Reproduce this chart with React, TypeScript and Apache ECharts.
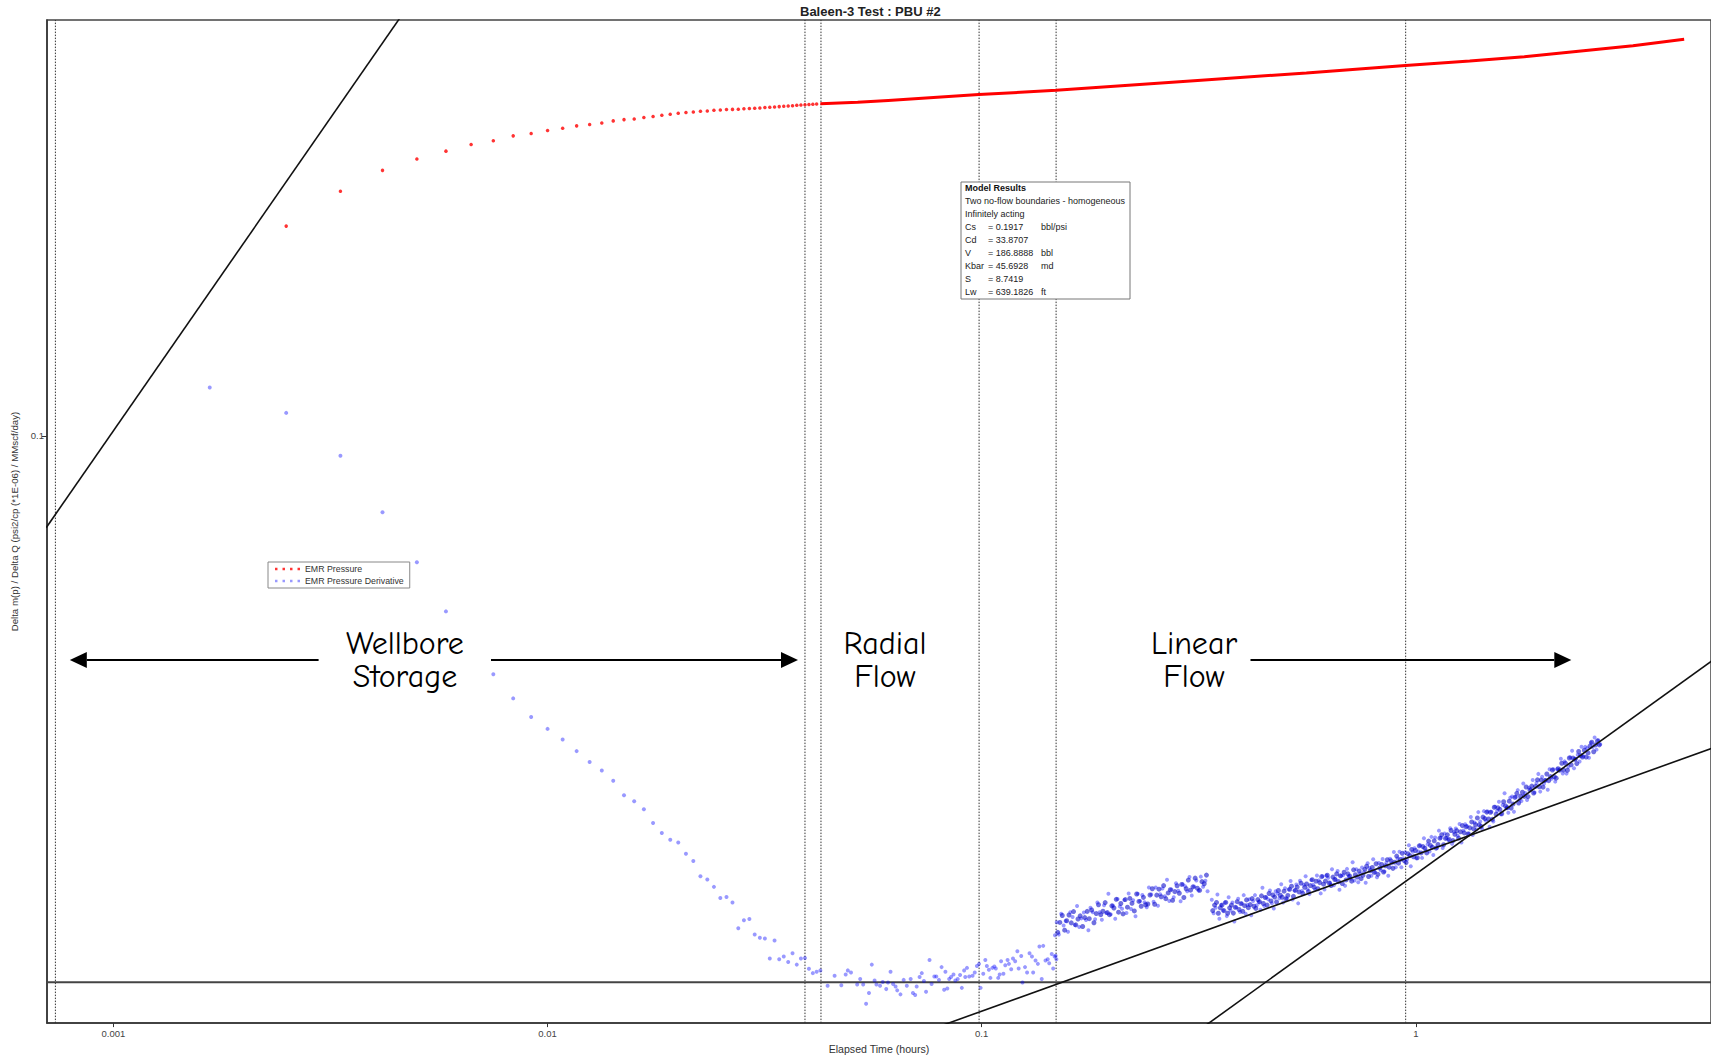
import React, { useEffect, useRef } from 'react';
import * as echarts from 'echarts';

// ---- Data -------------------------------------------------------------
// Scatter data: [elapsed time (s), value in psi2/cp (*1E-06) / MMscf/day]

const pressureEarly: [number, number][] = [
  [9, 0.2164], [12, 0.246], [15, 0.2657], [18, 0.277], [21, 0.2852], [24, 0.2923],
  [27, 0.2963], [30, 0.3017], [33, 0.3043], [36, 0.3076], [39, 0.3103], [42, 0.313],
  [45, 0.3145], [48, 0.3164], [51, 0.3188], [54, 0.3203], [57, 0.3211], [60, 0.3227],
  [63, 0.3239], [66, 0.3255], [69, 0.3266], [72, 0.3279], [75, 0.3287], [78, 0.3295],
  [81, 0.3303], [84, 0.3307], [87, 0.3315], [90, 0.3319], [93, 0.3324], [96, 0.3326],
  [99, 0.3327], [102, 0.3333], [105, 0.3336], [108, 0.334], [111, 0.3344], [114, 0.3348],
  [117, 0.3352], [120, 0.3356], [123, 0.336], [126, 0.3364], [129, 0.3368], [132, 0.3372],
  [135, 0.3376], [138, 0.338], [141, 0.3384], [144, 0.3387], [147, 0.339], [150, 0.3393],
];

// Dense pressure record, [hours, value]
const pressureLate: [number, number][] = [
  [0.0425, 0.3396], [0.0518, 0.3413], [0.0609, 0.3438], [0.0985, 0.3512], [0.1484, 0.3568],
  [0.3143, 0.3699], [0.5597, 0.3803], [0.9465, 0.391], [1.331, 0.3975], [1.777, 0.4038],
  [2.37, 0.412], [3.164, 0.4203], [4.151, 0.4305],
];

const derivStorage: [number, number][] = [
  [6, 0.1195], [9, 0.1088], [12, 0.0929], [15, 0.07548], [18, 0.06277], [21, 0.05239],
  [27, 0.04157], [30, 0.03803], [33, 0.03552], [36, 0.03399], [39, 0.03269], [42, 0.03132],
  [45, 0.03008], [48, 0.02917], [51, 0.02809], [54, 0.02662], [57, 0.02604], [60, 0.02529],
  [63, 0.02403], [66, 0.02316], [69, 0.0226], [72, 0.02238], [75, 0.02147], [78, 0.0209],
  [81, 0.01976], [84, 0.01952], [87, 0.019], [90, 0.01823], [93, 0.0183], [96, 0.01794],
  [99, 0.01631], [102, 0.0168], [105, 0.01688], [108, 0.01594], [111, 0.01575], [114, 0.01571],
  [117, 0.01459], [120, 0.01559], [123, 0.01455], [126, 0.0147], [129, 0.01441], [132, 0.01488],
  [135, 0.01427], [138, 0.01459],
];

const derivRadial: [number, number][] = [
  [141, 0.01462], [144, 0.01406], [147, 0.01383], [150, 0.0139], [153, 0.01397], [159, 0.0132],
  [165, 0.0137], [171, 0.01323], [175, 0.01376], [177, 0.01397], [180, 0.01386], [186, 0.01326],
  [189, 0.01353], [192, 0.01326], [195, 0.01236], [198, 0.01285], [201, 0.01427], [204, 0.01346],
  [206, 0.01326], [210, 0.0132], [213, 0.01339], [217, 0.01304], [219, 0.01336], [222, 0.0139],
  [225, 0.01329], [228, 0.01317], [230, 0.01298], [234, 0.01279], [238, 0.01349], [242, 0.0132],
  [247, 0.01353], [250, 0.01285], [253, 0.01276], [255, 0.01317], [259, 0.01363], [262, 0.01383],
  [265, 0.01343], [268, 0.01291], [273, 0.01452], [276, 0.01329], [280, 0.01366], [283, 0.01366],
  [287, 0.01349], [291, 0.01414], [295, 0.01301], [297, 0.0139], [300, 0.01307], [303, 0.01353],
  [306, 0.01363], [310, 0.01376], [313, 0.01346], [317, 0.01353], [321, 0.01373], [324, 0.0131],
  [328, 0.01397], [330, 0.01363], [333, 0.0141], [337, 0.01366], [343, 0.0137], [347, 0.01386],
  [351, 0.0142], [355, 0.01431], [358, 0.0131], [363, 0.0138], [367, 0.01452], [370, 0.0142],
  [374, 0.014], [377, 0.01359], [381, 0.0141], [385, 0.01417], [388, 0.01407], [393, 0.01359],
  [396, 0.01376], [399, 0.01445], [404, 0.0138], [408, 0.01424], [413, 0.01452], [416, 0.01431],
  [421, 0.01403], [425, 0.01459], [430, 0.01445], [435, 0.01499], [438, 0.01407], [444, 0.01473],
  [447, 0.01336], [453, 0.01414], [458, 0.01386], [464, 0.01488], [470, 0.0147], [473, 0.01386],
  [479, 0.01449], [485, 0.01431], [489, 0.01525], [495, 0.01353], [499, 0.01529], [505, 0.01449],
  [511, 0.01455], [515, 0.01434], [522, 0.01484], [526, 0.01407], [530, 0.0147], [535, 0.01455],
];

const derivStep: [number, number][] = [
  [531, 0.0159], [533, 0.01474], [536, 0.01668], [542, 0.01595], [549, 0.01721], [556, 0.01648],
  [562, 0.01676], [569, 0.01611], [576, 0.0173], [583, 0.017], [590, 0.01651], [597, 0.01771],
  [604, 0.01639], [611, 0.01692], [619, 0.01729], [626, 0.01682], [634, 0.0162], [641, 0.0176],
  [649, 0.01731], [657, 0.01686], [665, 0.01794], [673, 0.0173], [681, 0.01683], [689, 0.01775],
  [697, 0.01726], [705, 0.01852], [714, 0.01717], [722, 0.01774], [731, 0.0169], [740, 0.01817],
  [749, 0.01768], [758, 0.01753], [767, 0.01811], [776, 0.01726], [785, 0.01854], [795, 0.01751],
  [804, 0.01809], [814, 0.01705], [824, 0.01853], [834, 0.01803], [844, 0.01844], [854, 0.01795],
  [864, 0.01763], [874, 0.01896], [885, 0.01847], [896, 0.01798], [906, 0.01895], [917, 0.01772],
  [928, 0.01849], [939, 0.01889], [951, 0.01836], [962, 0.0195], [974, 0.01804], [985, 0.01882],
  [997, 0.01829], [1009, 0.01925], [1021, 0.01873], [1034, 0.01802], [1046, 0.01919], [1059, 0.01904],
  [1071, 0.0187], [1084, 0.0197], [1097, 0.01841], [1111, 0.01903], [1124, 0.01945], [1137, 0.01874],
  [1151, 0.01973], [1165, 0.01901], [1179, 0.01943], [1193, 0.0187],
];

const derivStepFill: [number, number][] = [
  [539, 0.01607], [545, 0.01667], [552, 0.0171], [559, 0.0162], [565, 0.01677], [572, 0.01713],
  [579, 0.01664], [586, 0.01735], [593, 0.01652], [600, 0.01688], [607, 0.01708], [615, 0.01642],
  [622, 0.01697], [630, 0.01736], [637, 0.0169], [645, 0.01745], [653, 0.01665], [661, 0.01722],
  [669, 0.01779], [677, 0.01715], [685, 0.01737], [693, 0.01793], [701, 0.01728], [709, 0.01715],
  [718, 0.01772], [726, 0.01758], [735, 0.01815], [744, 0.01731], [753, 0.01787], [762, 0.0172],
  [771, 0.01813], [780, 0.01763], [790, 0.01821], [799, 0.01789], [809, 0.01739], [819, 0.01851],
  [829, 0.01801], [839, 0.01769], [849, 0.01828], [859, 0.01779], [869, 0.01784], [879, 0.01844],
  [890, 0.01887], [901, 0.01782], [911, 0.01843], [922, 0.01884], [933, 0.01832], [945, 0.01909],
  [956, 0.01819], [968, 0.01858], [979, 0.0188], [991, 0.01808], [1003, 0.01867], [1015, 0.01908],
  [1027, 0.01856], [1040, 0.01917], [1052, 0.01827], [1065, 0.01887], [1077, 0.01948], [1090, 0.01877],
  [1104, 0.019], [1117, 0.01962], [1130, 0.01891], [1144, 0.01876], [1158, 0.01937], [1172, 0.01922],
  [1186, 0.01984],
];

const derivLinearA: [number, number][] = [
  [1220, 0.01812], [1232, 0.01724], [1245, 0.01759], [1257, 0.01847], [1270, 0.01689], [1282, 0.01777],
  [1295, 0.01741], [1308, 0.01794], [1321, 0.01706], [1334, 0.01829], [1348, 0.01741], [1361, 0.01794],
  [1375, 0.01673], [1389, 0.01763], [1403, 0.01818], [1417, 0.01732], [1431, 0.01788], [1445, 0.01843],
  [1460, 0.01721], [1474, 0.01777], [1489, 0.01815], [1504, 0.01711], [1519, 0.01804], [1534, 0.01843],
  [1549, 0.01775], [1565, 0.01797], [1580, 0.01746], [1596, 0.01894], [1612, 0.01771], [1628, 0.01829],
  [1645, 0.01816], [1661, 0.01875], [1678, 0.01788], [1695, 0.01755], [1712, 0.01869], [1729, 0.01854],
  [1746, 0.01822], [1763, 0.01918], [1781, 0.01794], [1799, 0.0189], [1817, 0.01821], [1835, 0.01881],
  [1853, 0.01941], [1872, 0.01814], [1891, 0.01874], [1910, 0.01916], [1929, 0.01788], [1948, 0.01943],
  [1968, 0.01872], [1987, 0.01914], [2007, 0.01975], [2027, 0.01884], [2048, 0.0185], [2068, 0.01949],
  [2089, 0.01915], [2110, 0.01881], [2131, 0.01981], [2152, 0.01946], [2174, 0.01855], [2196, 0.01975],
];

const derivLinearB: [number, number][] = [
  [2218, 0.01882], [2240, 0.01981], [2262, 0.01964], [2285, 0.01928], [2308, 0.02027], [2331, 0.01912],
  [2354, 0.01953], [2378, 0.02014], [2401, 0.0188], [2425, 0.0198], [2450, 0.01984], [2474, 0.01908],
  [2499, 0.0203], [2524, 0.01974], [2549, 0.01958], [2575, 0.0208], [2600, 0.01945], [2626, 0.02028],
  [2653, 0.01932], [2679, 0.01996], [2706, 0.02041], [2733, 0.02005], [2760, 0.01929], [2788, 0.02072],
  [2816, 0.02036], [2844, 0.01979], [2872, 0.02104], [2901, 0.02006], [2930, 0.01969], [2959, 0.02074],
  [2989, 0.0202], [3019, 0.02106], [3049, 0.0201], [3080, 0.02077], [3110, 0.0198], [3141, 0.02108],
  [3173, 0.02073], [3205, 0.02161], [3237, 0.02042], [3269, 0.0211], [3302, 0.02162], [3335, 0.02042],
  [3368, 0.02111], [3402, 0.02159], [3436, 0.02102], [3470, 0.02214], [3505, 0.0205], [3540, 0.02162],
  [3576, 0.0219], [3611, 0.0211], [3648, 0.02164], [3684, 0.02214], [3721, 0.02114], [3758, 0.02273],
  [3796, 0.02172], [3834, 0.02223], [3872, 0.02165], [3911, 0.02284], [3950, 0.02136], [3989, 0.02278],
  [4029, 0.02195], [4070, 0.02337], [4110, 0.02277], [4151, 0.02193], [4193, 0.02313], [4235, 0.02275],
  [4277, 0.02259], [4320, 0.02358], [4363, 0.02227], [4407, 0.02326],
];

const derivLinearC: [number, number][] = [
  [4451, 0.02356], [4495, 0.02294], [4540, 0.02394], [4586, 0.02238], [4631, 0.02338], [4678, 0.02392],
  [4725, 0.02376], [4772, 0.02312], [4819, 0.02458], [4868, 0.02299], [4916, 0.02409], [4966, 0.02348],
  [5015, 0.02502], [5065, 0.02417], [5116, 0.02354], [5167, 0.02511], [5219, 0.02424], [5271, 0.02508],
  [5324, 0.02371], [5377, 0.02506], [5431, 0.02417], [5485, 0.02552], [5540, 0.02512], [5595, 0.02599],
  [5651, 0.02482], [5708, 0.02568], [5765, 0.02682], [5823, 0.02538], [5881, 0.02497], [5940, 0.02637],
  [5999, 0.02649], [6059, 0.02505], [6120, 0.02648], [6181, 0.02713], [6243, 0.02621], [6305, 0.02606],
  [6368, 0.02779], [6432, 0.02684], [6496, 0.02616], [6561, 0.02736], [6627, 0.02721], [6693, 0.02815],
  [6760, 0.0269], [6828, 0.02785], [6896, 0.0288], [6965, 0.02698], [7034, 0.02849], [7105, 0.02777],
  [7176, 0.02817], [7248, 0.02717], [7320, 0.02929], [7393, 0.02829], [7467, 0.02929], [7542, 0.02799],
  [7617, 0.02929], [7693, 0.02915], [7770, 0.03046], [7848, 0.02884], [7926, 0.03016], [8006, 0.02883],
  [8086, 0.02957], [8166, 0.03061], [8248, 0.03137], [8331, 0.0294], [8414, 0.03045], [8498, 0.03091],
  [8583, 0.03014], [8669, 0.03182], [8756, 0.03073], [8843, 0.03181], [8932, 0.03166], [9021, 0.03056],
  [9111, 0.03229], [9202, 0.03181], [9294, 0.03293], [9387, 0.03149], [9481, 0.03261], [9576, 0.03213],
];

const derivLinearFillA: [number, number][] = [
  [1226, 0.01741], [1238, 0.01777], [1251, 0.01794], [1263, 0.01724], [1276, 0.01759], [1288, 0.01777],
  [1301, 0.01741], [1314, 0.01794], [1327, 0.01724], [1341, 0.01759], [1354, 0.01777], [1368, 0.01725],
  [1382, 0.01762], [1396, 0.01799], [1410, 0.01748], [1424, 0.01786], [1438, 0.01736], [1452, 0.01773],
  [1467, 0.01811], [1481, 0.0176], [1496, 0.0178], [1511, 0.0182], [1526, 0.01769], [1541, 0.01755],
  [1557, 0.01813], [1572, 0.01798], [1588, 0.01838], [1604, 0.01787], [1620, 0.01827], [1636, 0.01777],
  [1653, 0.01854], [1670, 0.01804], [1687, 0.01844], [1703, 0.0183], [1720, 0.01797], [1737, 0.01875],
  [1755, 0.01842], [1772, 0.01829], [1790, 0.0187], [1808, 0.01818], [1826, 0.01841], [1844, 0.01883],
  [1862, 0.01905], [1881, 0.01835], [1900, 0.01876], [1919, 0.01899], [1938, 0.01865], [1958, 0.01926],
  [1977, 0.01855], [1997, 0.01897], [2017, 0.0192], [2037, 0.01867], [2058, 0.01909], [2078, 0.01951],
  [2099, 0.01898], [2120, 0.0194], [2141, 0.01887], [2163, 0.0193], [2185, 0.01973], [2207, 0.01919],
  [2229, 0.01941], [2251, 0.01983], [2274, 0.01927], [2297, 0.01909], [2320, 0.0197], [2343, 0.01952],
  [2366, 0.01993], [2390, 0.01937], [2413, 0.01979], [2438, 0.01923], [2462, 0.02005], [2487, 0.01949],
  [2512, 0.01993], [2537, 0.01976], [2562, 0.0194], [2588, 0.02023], [2613, 0.01987], [2640, 0.0197],
  [2666, 0.02014], [2693, 0.01958], [2720, 0.01983], [2747, 0.02027], [2774, 0.0205], [2802, 0.01974],
  [2830, 0.02017], [2858, 0.02041], [2887, 0.02004], [2916, 0.02069], [2945, 0.0199], [2974, 0.02037],
  [3004, 0.02063], [3034, 0.02007], [3064, 0.02053], [3095, 0.021], [3125, 0.02043], [3157, 0.02091],
  [3189, 0.02034], [3221, 0.02081], [3253, 0.02128], [3285, 0.02073],
];

const derivLinearFillB: [number, number][] = [
  [3318, 0.02102], [3351, 0.0215], [3385, 0.02093], [3419, 0.02078], [3453, 0.02147], [3487, 0.02132],
  [3522, 0.02181], [3558, 0.02123], [3593, 0.02172], [3629, 0.02115], [3666, 0.0221], [3702, 0.02153],
  [3739, 0.02204], [3777, 0.0219], [3815, 0.02153], [3853, 0.02249], [3891, 0.02213], [3930, 0.02199],
  [3969, 0.02251], [4009, 0.02191], [4049, 0.02221], [4090, 0.02273], [4130, 0.02302], [4172, 0.02219],
  [4214, 0.02271], [4256, 0.02301], [4298, 0.02262], [4341, 0.02338], [4385, 0.02253], [4429, 0.02306],
  [4473, 0.02336], [4517, 0.02274], [4563, 0.02327], [4608, 0.02381], [4654, 0.02318], [4701, 0.02371],
  [4748, 0.02308], [4795, 0.02361], [4843, 0.02413], [4892, 0.02353], [4941, 0.0239], [4990, 0.02449],
  [5040, 0.02387], [5090, 0.02374], [5141, 0.02456], [5193, 0.02443], [5245, 0.02502], [5297, 0.02439],
  [5350, 0.025], [5404, 0.02436], [5458, 0.02547], [5512, 0.02482], [5567, 0.02542], [5623, 0.02528],
  [5679, 0.02487], [5736, 0.02599], [5794, 0.02559], [5852, 0.02543], [5910, 0.02605], [5970, 0.02539],
  [6029, 0.02577], [6090, 0.02641], [6151, 0.02681], [6212, 0.02587], [6274, 0.02653], [6337, 0.02692],
  [6400, 0.02651], [6464, 0.02744], [6529, 0.02649], [6594, 0.02715], [6660, 0.02754], [6726, 0.02684],
  [6794, 0.02751], [6862, 0.02818], [6930, 0.02747], [6999, 0.02815], [7069, 0.02743], [7140, 0.02811],
  [7212, 0.02879], [7284, 0.02809], [7356, 0.02851], [7430, 0.02922], [7504, 0.0285], [7579, 0.02835],
  [7655, 0.02936], [7731, 0.02922], [7809, 0.02995], [7887, 0.02921], [7966, 0.02994], [8046, 0.02919],
  [8126, 0.03054], [8207, 0.02978], [8289, 0.03053], [8372, 0.03038], [8456, 0.02991], [8540, 0.03128],
  [8626, 0.03082], [8712, 0.03065], [8799, 0.03142], [8887, 0.03064], [8976, 0.03111], [9066, 0.0319],
  [9156, 0.03236], [9248, 0.03125], [9340, 0.03205], [9434, 0.03253], [9528, 0.03205],
];

// Diagnostic straight lines, [hours, value] end points
const unitSlopeLine: [number, number][] = [[0.0007, 0.0713], [0.0047, 0.479]];
const quarterSlopeLine: [number, number][] = [[0.08, 0.01137], [5, 0.03196]];
const halfSlopeLine: [number, number][] = [[0.3, 0.01091], [5, 0.04454]];

// Flow-regime boundaries (hours) and radial-flow stabilisation level
const regimeBoundaries = [0.000735, 0.03917, 0.04264, 0.09863, 0.1484, 0.9476];
const radialLevel = 0.01337;

const timeRange = [0.000703, 4.786];
const valueRange = [0.011506, 0.4622];

const modelTitle = 'Model Results';
const modelNotes = ['Two no-flow boundaries - homogeneous', 'Infinitely acting'];
const modelParams: [string, string, string][] = [
  ['Cs', '= 0.1917', 'bbl/psi'],
  ['Cd', '= 33.8707', ''],
  ['V', '= 186.8888', 'bbl'],
  ['Kbar', '= 45.6928', 'md'],
  ['S', '= 8.7419', ''],
  ['Lw', '= 639.1826', 'ft'],
];

const regimeLabels = [
  { lines: ['Wellbore', 'Storage'], x: 405 },
  { lines: ['Radial', 'Flow'], x: 885 },
  { lines: ['Linear', 'Flow'], x: 1194 },
];

// ---- Helpers ----------------------------------------------------------
const SEC_PER_HOUR = 3600;
const toHours = (pts: [number, number][]) => pts.map(([s, v]) => [s / SEC_PER_HOUR, v]);

const SANS = '"Liberation Sans", Arial, sans-serif';
const HAND = '"Comic Sans MS", "Comic Neue", "Liberation Sans", sans-serif';
const DOTS_ICON = 'path://M0,0h2.5v2.5h-2.5zM7.6,0h2.5v2.5h-2.5zM15.2,0h2.5v2.5h-2.5zM22.8,0h2.5v2.5h-2.5z';
const DERIV_COLOR = 'rgba(0,0,255,0.5)';
const DERIV_CORE_COLOR = 'rgba(0,0,200,0.7)';

function arrow(x1: number, x2: number, y: number) {
  // shaft from x1 towards the tip at x2
  const dir = x2 > x1 ? 1 : -1;
  const base = x2 - dir * 17;
  return [
    { type: 'line', z: 60, shape: { x1, y1: y, x2: base, y2: y }, style: { stroke: '#000', lineWidth: 2 } },
    {
      type: 'polygon', z: 60,
      shape: { points: [[x2, y], [base, y - 8], [base, y + 8]] },
      style: { fill: '#000' },
    },
  ];
}

function buildGraphics() {
  const els: any[] = [];
  // Model results box
  const bx = 961, by = 182, bw = 169, bh = 117;
  els.push({ type: 'rect', z: 50, shape: { x: bx, y: by, width: bw, height: bh }, style: { fill: '#fff', stroke: '#777', lineWidth: 1 } });
  const rowY = (i: number) => 188 + i * 12.95;
  const font = `9px ${SANS}`;
  els.push({ type: 'text', z: 51, x: 965, y: rowY(0), style: { text: modelTitle, font: `bold 9px ${SANS}`, fill: '#111', textVerticalAlign: 'middle' } });
  modelNotes.forEach((t, i) => {
    els.push({ type: 'text', z: 51, x: 965, y: rowY(i + 1), style: { text: t, font, fill: '#222', textVerticalAlign: 'middle' } });
  });
  modelParams.forEach(([k, v, u], i) => {
    const y = rowY(i + 3);
    els.push({ type: 'text', z: 51, x: 965, y, style: { text: k, font, fill: '#222', textVerticalAlign: 'middle' } });
    els.push({ type: 'text', z: 51, x: 988, y, style: { text: v, font, fill: '#222', textVerticalAlign: 'middle' } });
    if (u) els.push({ type: 'text', z: 51, x: 1041, y, style: { text: u, font, fill: '#222', textVerticalAlign: 'middle' } });
  });

  // Flow-regime annotations
  regimeLabels.forEach(({ lines, x }) => {
    lines.forEach((t, i) => {
      els.push({
        type: 'text', z: 60, x, y: 643 + i * 33.5,
        style: { text: t, font: `32px ${HAND}`, fill: '#000', textAlign: 'center', textVerticalAlign: 'middle' },
      });
    });
  });
  els.push(...arrow(318.6, 69.8, 660));
  els.push(...arrow(491, 798, 660));
  els.push(...arrow(1250.5, 1571.3, 660));
  return els;
}

function buildOption(): echarts.EChartsOption {
  const straight = (name: string, data: number[][], extra: any = {}) => ({
    name, type: 'line', data, symbol: 'none', showSymbol: false, silent: true, clip: true, z: 5,
    lineStyle: { color: '#111', width: 1.6 }, ...extra,
  });
  const derivSeries = (pts: [number, number][], core = false) => ({
    name: 'EMR Pressure Derivative', type: 'scatter', data: toHours(pts), symbol: 'circle',
    symbolSize: core ? 5 : 4,
    itemStyle: { color: core ? DERIV_CORE_COLOR : DERIV_COLOR }, z: 2, silent: true,
  });

  return {
    animation: false,
    backgroundColor: '#fff',
    title: {
      text: 'Baleen-3 Test : PBU #2', left: 800, top: 5, padding: 0,
      textStyle: { fontSize: 13, fontWeight: 'bold', fontFamily: SANS, color: '#222' },
    },
    legend: {
      orient: 'vertical', left: 268, top: 562, selectedMode: false,
      itemWidth: 25, itemHeight: 2.5, itemGap: 2, padding: [2, 6, 2, 7],
      borderColor: '#888', borderWidth: 1, backgroundColor: '#fff',
      textStyle: { fontSize: 8.8, color: '#333', fontFamily: SANS, lineHeight: 10 },
      data: [
        { name: 'EMR Pressure', icon: DOTS_ICON },
        { name: 'EMR Pressure Derivative', icon: DOTS_ICON, itemStyle: { color: DERIV_COLOR } },
      ],
    },
    grid: { left: 47, right: -4, top: 20, bottom: 31.5, show: true, borderColor: '#444', borderWidth: 1.5, backgroundColor: '#fff' },
    xAxis: {
      type: 'log', logBase: 10, min: timeRange[0], max: timeRange[1],
      name: 'Elapsed Time (hours)', nameLocation: 'middle', nameGap: 15,
      nameTextStyle: { fontSize: 10.6, color: '#333', fontFamily: SANS },
      axisLine: { show: true, lineStyle: { color: '#333', width: 1.5 } },
      axisTick: { show: true, length: 4, lineStyle: { color: '#333' } },
      axisLabel: { fontSize: 9.5, color: '#444', fontFamily: SANS, margin: 5, showMinLabel: false, showMaxLabel: false },
      splitLine: { show: false },
      minorTick: { show: false },
    },
    yAxis: {
      type: 'log', logBase: 10, min: valueRange[0], max: valueRange[1],
      name: 'Delta m(p) / Delta Q (psi2/cp (*1E-06) / MMscf/day)', nameLocation: 'middle', nameGap: 24,
      nameTextStyle: { fontSize: 9.7, color: '#333', fontFamily: SANS },
      axisLine: { show: true, lineStyle: { color: '#333', width: 1.5 } },
      axisTick: { show: true, length: 5, lineStyle: { color: '#333' } },
      axisLabel: { fontSize: 9.5, color: '#444', fontFamily: SANS, margin: 3, showMinLabel: false, showMaxLabel: false },
      splitLine: { show: false },
      minorTick: { show: false },
    },
    series: [
      {
        name: 'EMR Pressure', type: 'scatter', data: toHours(pressureEarly), symbol: 'circle', symbolSize: 3.5,
        itemStyle: { color: '#ff0000' }, z: 3, silent: true,
      },
      {
        name: 'EMR Pressure', type: 'line', data: pressureLate, symbol: 'none', showSymbol: false, silent: true,
        lineStyle: { color: '#ff0000', width: 3 }, itemStyle: { color: '#ff0000' }, z: 3,
      },
      derivSeries(derivStorage),
      derivSeries(derivRadial),
      derivSeries(derivStep),
      derivSeries(derivStepFill, true),
      derivSeries(derivLinearA),
      derivSeries(derivLinearB),
      derivSeries(derivLinearC),
      derivSeries(derivLinearFillA, true),
      derivSeries(derivLinearFillB, true),
      straight('Unit slope', unitSlopeLine),
      straight('Quarter slope', quarterSlopeLine),
      straight('Half slope', halfSlopeLine),
      ...regimeBoundaries.map((x, i) =>
        straight(`Boundary ${i + 1}`, [[x, valueRange[0]], [x, valueRange[1]]], {
          z: 1, lineStyle: { color: '#333', width: 1, type: [1.5, 1.5] },
        })),
      straight('Radial level', [[timeRange[0], radialLevel], [timeRange[1], radialLevel]], {
        z: 1, lineStyle: { color: '#444', width: 2 },
      }),
    ],
    graphic: { elements: buildGraphics() },
  } as any;
}

export default function App() {
  const ref = useRef<HTMLDivElement>(null);
  useEffect(() => {
    if (!ref.current) return;
    const chart = echarts.init(ref.current, null, { renderer: 'svg' });
    chart.setOption(buildOption());
    return () => chart.dispose();
  }, []);
  return (
    <div
      ref={ref}
      style={{ position: 'fixed', left: 0, top: 0, width: 1711, height: 1059, background: '#fff' }}
    />
  );
}
